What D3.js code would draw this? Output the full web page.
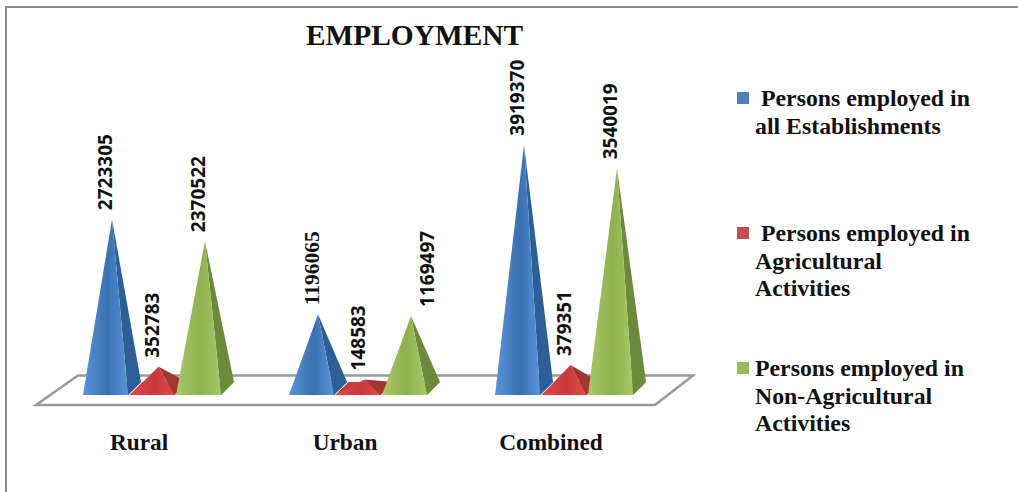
<html>

<head>
    <script src="https://d3js.org/d3.v7.min.js"></script>
    <style>
        body { margin: 0; background: white; }
        text { font-family: "Liberation Serif", serif; font-weight: bold; fill: #111; }
    </style>
</head>

<body>
    <svg id="chart" width="1018" height="492" style="display:block"></svg>
    <script>

        const categories = ["Rural", "Urban", "Combined"]
        const allEstablishments = [2723305, 1196065, 3919370]
        const agricultural = [352783, 148583, 379351]
        const nonAgricultural = [2370522, 1169497, 3540019]
        const seriesNames = ["all", "agri", "nonAgri"]
        const legendLines = [
            ["Persons employed in", "all Establishments"],
            ["Persons employed in", "Agricultural", "Activities"],
            ["Persons employed in", "Non-Agricultural", "Activities"]
        ]

        const svg = d3.select("#chart")

        const seriesValues = [allEstablishments, agricultural, nonAgricultural]
        const swatch = ["#4f81bd", "#c0504d", "#9bbb59"]
        const frontLight = ["#5a94d8", "#e04a48", "#a9c96a"]
        const frontDark = ["#3a70b2", "#c93a3a", "#8fb04e"]
        const sideColor = ["#2b5f96", "#a33434", "#6b8a3b"]

        // chart frame, top and left only
        svg.append("path")
            .attr("d", "M6,492V7H1018")
            .style("fill", "none")
            .style("stroke", "#8c8c8c")
            .style("stroke-width", 2)

        svg.append("text")
            .attr("x", 414.5).attr("y", 45)
            .attr("text-anchor", "middle")
            .style("font-size", "29.4px")
            .text("EMPLOYMENT")

        const baseY = 395
        const y = d3.scaleLinear().domain([0, 4000000]).range([388.7, 139.7])
        const xGroup = d3.scalePoint().domain(categories).range([83, 495])
        const xSeries = d3.scalePoint().domain(seriesNames).range([0, 93])
        const w = 45, depth = 13

        // floor
        svg.append("path")
            .attr("d", d3.line()([[36, 405], [78, 375.5], [693, 375.5], [655, 405]]) + "Z")
            .style("fill", "white")
            .style("stroke", "#9a9a9a")
            .style("stroke-width", 2.5)

        const defs = svg.append("defs")
        swatch.forEach((c, i) => {
            const g = defs.append("linearGradient").attr("id", "front" + i)
            g.append("stop").attr("offset", "0%").attr("stop-color", frontLight[i])
            g.append("stop").attr("offset", "55%").attr("stop-color", frontDark[i])
            g.append("stop").attr("offset", "100%").attr("stop-color", frontLight[i])
        })

        const pyramid = svg.append("g")
        const labels = svg.append("g")
        const line = d3.line()

        categories.forEach((cat, c) => {
            seriesNames.forEach((s, i) => {
                const v = seriesValues[i][c]
                const x0 = xGroup(cat) + xSeries(s)
                const tip = [x0 + w / 2 + depth / 2, y(v)]
                const fl = [x0, baseY], fr = [x0 + w, baseY]
                const br = [x0 + w + depth, baseY - depth], bl = [x0 + depth, baseY - depth]

                // base shows up only on the low red ones, the tall faces hide it
                pyramid.append("path")
                    .attr("d", line([fl, bl, br, fr]) + "Z")
                    .style("fill", frontDark[i])
                pyramid.append("path")
                    .attr("d", line([fr, br, tip]) + "Z")
                    .style("fill", sideColor[i])
                pyramid.append("path")
                    .attr("d", line([fl, fr, tip]) + "Z")
                    .style("fill", `url(#front${i})`)

                // 1169497 was dragged off its peak in the original, 1196065 is set in serif
                const nudge = v == 1169497 ? 23 : 0
                const lx = tip[0] - 6.5 + nudge, ly = tip[1] - 9
                labels.append("text")
                    .attr("transform", `translate(${lx},${ly}) rotate(-90)`)
                    .attr("dy", "0.36em")
                    .style("font-family", v == 1196065 ? '"Liberation Serif", serif' : '"Open Sans", sans-serif')
                    .style("font-size", v == 1196065 ? "21.5px" : "19px")
                    .text(v)
            })

            svg.append("text")
                .attr("x", xGroup(cat) + 56).attr("y", 450)
                .attr("text-anchor", "middle")
                .style("font-size", "23.3px")
                .text(cat)
        })

        // legend
        const legendTop = [92, 227, 362]
        legendLines.forEach((lines, i) => {
            svg.append("rect")
                .attr("x", 737).attr("y", legendTop[i])
                .attr("width", 12).attr("height", 12)
                .style("fill", swatch[i])
            lines.forEach((t, j) => {
                svg.append("text")
                    .attr("x", j == 0 && i < 2 ? 761 : 755)
                    .attr("y", legendTop[i] + 14 + j * 27.7)
                    .style("font-size", "23.8px")
                    .text(t)
            })
        })

    </script>
</body>

</html>
